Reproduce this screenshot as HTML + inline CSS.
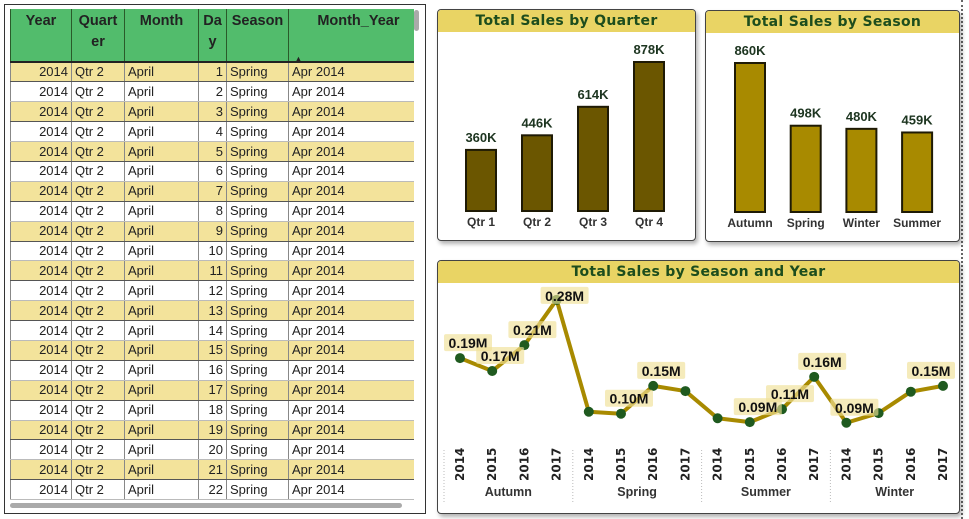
<!DOCTYPE html>
<html><head><meta charset="utf-8">
<style>
body{margin:0;width:969px;height:519px;background:#fff;position:relative;overflow:hidden;font-family:"Liberation Sans",sans-serif}
.abs{position:absolute}
.card{position:absolute;background:#fff;border:1px solid #444;border-radius:4px;box-shadow:2px 3px 4px rgba(0,0,0,.3);overflow:hidden}
.title{position:absolute;left:0;right:0;top:0;height:22px;background:#e9d464;color:#1d4d1d;font-weight:bold;font-size:14px;text-align:center;line-height:23px;font-family:"DejaVu Sans",sans-serif;letter-spacing:.3px}
table{border-collapse:collapse;position:absolute;left:10px;top:9px;font-family:"Liberation Sans",sans-serif;font-size:13px;color:#222;table-layout:fixed}
th{background:#52bc6c;color:#222;font-size:14.5px;font-weight:bold;vertical-align:top;border-left:1px solid #2a5a2a;height:53px;padding:2px 2px 0;box-sizing:border-box;line-height:21px;border-bottom:2px solid #222}
td{height:19.9px;padding:0 3px;border-left:1px solid #888;white-space:nowrap;box-sizing:border-box;line-height:18px}
tr.y td{background:#f3e39b}
tr td{border-bottom:1px solid #bbb}
tr.y td{border-bottom:1px solid #555}
</style></head><body>
<div class="abs" style="left:4px;top:4px;width:420px;height:508px;border:1px solid #333"></div>
<table id="tbl">
<colgroup><col style="width:61px"><col style="width:53px"><col style="width:74px"><col style="width:28px"><col style="width:62px"><col style="width:125px"></colgroup>
<thead><tr>
<th style="text-align:center">Year</th>
<th style="text-align:center">Quart<br>er</th>
<th style="text-align:center">Month</th>
<th style="text-align:center;padding:2px 0">Da<br>y</th>
<th style="text-align:center">Season</th>
<th style="text-align:right;padding-right:14px;position:relative">Month_Year<span style="position:absolute;left:5px;top:40px;font-size:9px">▲</span></th>
</tr></thead><tbody id="tb"></tbody></table>
<div class="abs" style="left:414px;top:10px;width:5px;height:21px;background:#aaa;border-radius:3px"></div>
<div class="abs" style="left:10px;top:503px;width:392px;height:5px;background:#aaa;border-radius:3px"></div>
<div class="abs" style="left:961px;top:0;width:0;height:519px;border-left:2px dotted #666"></div>

<div class="card" style="left:437px;top:9px;width:257px;height:230px"><div class="title">Total Sales by Quarter</div></div>
<div class="card" style="left:705px;top:10px;width:253px;height:230px"><div class="title">Total Sales by Season</div></div>
<div class="card" style="left:437px;top:260px;width:521px;height:252px"><div class="title">Total Sales by Season and Year</div></div>

<svg class="abs" style="left:0;top:0" width="969" height="519" id="svg"></svg>
<script>
const qCats=["Qtr 1","Qtr 2","Qtr 3","Qtr 4"];
const qVals=[360,446,614,878];
const sCats=["Autumn","Spring","Winter","Summer"];
const sVals=[860,498,480,459];
const lSeasons=["Autumn","Spring","Summer","Winter"];
const lYears=["2014","2015","2016","2017"];
const lVals=[0.19,0.17,0.21,0.28,0.107,0.104,0.147,0.139,0.097,0.091,0.111,0.161,0.090,0.105,0.138,0.147];
const lShow=[1,1,1,1,0,1,1,0,0,1,1,1,1,0,0,1];

const tb=document.getElementById('tb');
for(let i=1;i<=22;i++){const tr=document.createElement('tr');if(i%2)tr.className='y';


tr.innerHTML='<td style="text-align:right">2014</td><td>Qtr 2</td><td>April</td><td style="text-align:right">'+i+'</td><td>Spring</td><td>Apr 2014</td>';tb.appendChild(tr);}

const svg=document.getElementById('svg');const NS='http://www.w3.org/2000/svg';
function el(t,a,txt){const e=document.createElementNS(NS,t);for(const k in a)e.setAttribute(k,a[k]);if(txt!=null)e.textContent=txt;svg.appendChild(e);return e;}
function bars(cats,vals,x0,dx,base,scale,fill,nm){
 cats.forEach((c,i)=>{const cx=x0+i*dx,h=vals[i]*scale;
  const r=el('rect',{x:cx-15,y:base-h,width:30,height:h,fill:fill,stroke:'#1e1a05','stroke-width':2});
  
  
  const t=el('text',{x:cx,y:base-h-8,'text-anchor':'middle','font-size':13,'font-weight':'bold',fill:'#1d3520','font-family':'Liberation Sans,sans-serif'},vals[i]+'K');
  
  
  const l=el('text',{x:cx,y:base+15,'text-anchor':'middle','font-size':12,'font-weight':'bold',fill:'#333','font-family':'Liberation Sans,sans-serif'},c);
  
  
 });}
bars(qCats,qVals,481,56,211,149/878,'#6b5600','quarter');
bars(sCats,sVals,750,55.7,212,149/860,'#a88a00','season');

const X=i=>460+i*32.2, Y=v=>481-v*647;
let d='';lVals.forEach((v,i)=>{d+=(i?'L':'M')+X(i)+' '+Y(v);});
const p=el('path',{d:d,fill:'none',stroke:'#a88a00','stroke-width':4,'stroke-linejoin':'round'});


lVals.forEach((v,i)=>{
 const c=el('circle',{cx:X(i),cy:Y(v),r:5,fill:'#1f5a1f'});
 
 
});
lVals.forEach((v,i)=>{if(!lShow[i])return;
 let cx=Math.min(X(i)+8,931),by=Y(v)-7;
 if(by-17<284)by=Y(v)+4;
 const r=el('rect',{x:cx-24,y:by-17,width:48,height:17,fill:'rgba(240,224,150,0.65)',rx:2});
 
 
 const t=el('text',{x:cx,y:by-3,'text-anchor':'middle','font-size':14,'font-weight':'bold',fill:'#111','font-family':'Liberation Sans,sans-serif'},v.toFixed(2)+'M');
 
 
});
lSeasons.forEach((s,g)=>{
 const sx=X(g*4)-16;
 const ln=el('line',{x1:sx,y1:450,x2:sx,y2:502,stroke:'#bbb','stroke-dasharray':'1 2'});
 
 
 lYears.forEach((y,j)=>{const x=X(g*4+j);
  const t=el('text',{x:0,y:0,transform:'translate('+(x+4)+',481) rotate(-90)','font-size':12,'font-weight':'bold',fill:'#222','font-family':'DejaVu Sans,sans-serif'},y);
  
  
 });
 const t=el('text',{x:(X(g*4)+X(g*4+3))/2,y:496,'text-anchor':'middle','font-size':12.5,'font-weight':'bold',fill:'#333','font-family':'Liberation Sans,sans-serif'},s);
 
 
});
</script>
</body></html>
